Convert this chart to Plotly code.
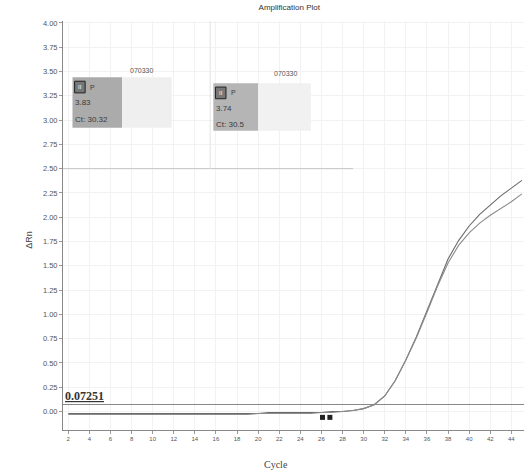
import plotly.graph_objects as go

cycles = list(range(2, 46))
# sample 1 (upper curve)
rn_a = [-0.02, -0.02, -0.02, -0.02, -0.02, -0.02, -0.02, -0.02, -0.02, -0.02,
        -0.02, -0.02, -0.02, -0.02, -0.02, -0.02, -0.02, -0.02, -0.02, -0.01,
        -0.01, -0.01, -0.01, -0.01, -0.01, 0.00, 0.00, 0.01, 0.03, 0.07,
        0.16, 0.32, 0.53, 0.77, 1.04, 1.32, 1.57, 1.76, 1.91, 2.03, 2.13,
        2.22, 2.30, 2.38]
# sample 2 (lower curve)
rn_b = [-0.03, -0.03, -0.03, -0.03, -0.03, -0.03, -0.03, -0.03, -0.03, -0.03,
        -0.03, -0.03, -0.03, -0.03, -0.03, -0.03, -0.03, -0.03, -0.02, -0.02,
        -0.02, -0.02, -0.02, -0.02, -0.01, -0.01, 0.00, 0.01, 0.03, 0.07,
        0.16, 0.32, 0.53, 0.76, 1.02, 1.29, 1.53, 1.71, 1.84, 1.94, 2.02,
        2.09, 2.16, 2.24]
threshold = 0.07251
baseline_marks_x = [26.1, 26.8]
baseline_marks_y = [-0.06, -0.06]

x_ticks = list(range(2, 46, 2))
y_ticks = [i * 0.25 for i in range(17)]

sample_names = ["070330", "070330"]
sample_rn = ["3.83", "3.74"]
sample_ct = ["Ct: 30.32", "Ct: 30.5"]

fig = go.Figure()
fig.add_trace(go.Scatter(x=cycles, y=rn_a, mode="lines",
                         line=dict(color="#6a6a6a", width=1.1), showlegend=False))
fig.add_trace(go.Scatter(x=cycles, y=rn_b, mode="lines",
                         line=dict(color="#8c8c8c", width=1.1), showlegend=False))
fig.add_trace(go.Scatter(x=[1.5, 45.2], y=[threshold, threshold], mode="lines",
                         line=dict(color="#888888", width=1.0), showlegend=False))
fig.add_trace(go.Scatter(x=baseline_marks_x, y=baseline_marks_y, mode="markers",
                         marker=dict(symbol="square", size=5, color="#222222"),
                         showlegend=False))

shapes = [
    dict(type="line", xref="x", yref="y", x0=1.5, x1=29.0, y0=2.5, y1=2.5,
         line=dict(color="#c4c4c4", width=1)),
    dict(type="line", xref="x", yref="y", x0=15.45, x1=15.45, y0=2.5, y1=4.02,
         line=dict(color="#e2e2e2", width=1)),
    dict(type="rect", xref="x", yref="y", x0=2.4, x1=7.1, y0=2.92, y1=3.44,
         fillcolor="#ababab", line=dict(width=0)),
    dict(type="rect", xref="x", yref="y", x0=7.1, x1=11.8, y0=2.92, y1=3.44,
         fillcolor="#efefef", line=dict(width=0)),
    dict(type="rect", xref="x", yref="y", x0=15.75, x1=20.0, y0=2.89, y1=3.38,
         fillcolor="#b5b5b5", line=dict(width=0)),
    dict(type="rect", xref="x", yref="y", x0=20.0, x1=25.0, y0=2.89, y1=3.38,
         fillcolor="#f1f1f1", line=dict(width=0)),
    dict(type="rect", xref="x", yref="y", x0=2.6, x1=3.6, y0=3.28, y1=3.40,
         fillcolor="#777777", line=dict(color="#222222", width=1)),
    dict(type="rect", xref="x", yref="y", x0=15.95, x1=16.95, y0=3.22, y1=3.34,
         fillcolor="#777777", line=dict(color="#222222", width=1)),
]

ann = []
txt_font = dict(family="Arial, Liberation Sans, sans-serif", size=8, color="#3a3a3a")
for bx, lx, ly, ytop, name, rn, ct in [
    (2.55, 8.9, 3.51, 3.34, sample_names[0], sample_rn[0], sample_ct[0]),
    (15.9, 22.6, 3.48, 3.28, sample_names[1], sample_rn[1], sample_ct[1]),
]:
    ann.append(dict(x=lx, y=ly, xref="x", yref="y", text=name, showarrow=False,
                    font=dict(family="Arial, Liberation Sans, sans-serif", size=7, color="#555555")))
    ann.append(dict(x=bx + 0.55, y=ytop, xref="x", yref="y", text="II", showarrow=False,
                    font=dict(family="Arial", size=6, color="#ffffff")))
    ann.append(dict(x=bx + 1.3, y=ytop, xref="x", yref="y", text="P", showarrow=False,
                    xanchor="left", font=dict(family="Arial", size=7, color="#3a3a3a")))
    ann.append(dict(x=bx - 0.1, y=ytop - 0.16, xref="x", yref="y", text=rn, showarrow=False,
                    xanchor="left", font=txt_font))
    ann.append(dict(x=bx - 0.1, y=ytop - 0.33, xref="x", yref="y", text=ct, showarrow=False,
                    xanchor="left", font=txt_font))

ann.append(dict(x=0.0, y=0.062, xref="paper", yref="paper", text="<b><u>0.07251</u></b>",
                showarrow=False, xanchor="left", yanchor="bottom",
                font=dict(family="Liberation Serif, serif", size=12, color="#333333")))
# axis titles
ann.append(dict(x=-0.089, y=0.465, xref="paper", yref="paper", text="ΔRn", textangle=-90,
                showarrow=False, font=dict(family="Arial, Liberation Sans, sans-serif",
                                           size=9, color="#444444")))
ann.append(dict(x=0.462, y=-0.085, xref="paper", yref="paper", text="Cycle",
                showarrow=False, yanchor="middle",
                font=dict(family="Liberation Serif, serif", size=10, color="#444444")))

fig.update_layout(
    width=526, height=475,
    margin=dict(l=63, r=2, t=21, b=45, autoexpand=False),
    paper_bgcolor="white", plot_bgcolor="white",
    title=dict(text="Amplification Plot", x=0.55, y=0.99, xanchor="center", yanchor="top",
               font=dict(family="Arial, Liberation Sans, sans-serif", size=8, color="#333333")),
    shapes=shapes, annotations=ann,
    xaxis=dict(range=[1.5, 45.2], tickvals=x_ticks, showgrid=True, gridcolor="#f2f2f2",
               showline=True, linecolor="#888888", ticks="outside", ticklen=3,
               tickcolor="#999999", zeroline=False, automargin=False,
               tickfont=dict(family="Arial, Liberation Sans, sans-serif", size=6, color="#555555")),
    yaxis=dict(range=[-0.19, 4.02], tickvals=y_ticks, tickformat=".2f", showgrid=True,
               gridcolor="#f2f2f2", showline=True, linecolor="#888888", ticks="outside",
               ticklen=3, tickcolor="#999999", zeroline=False, automargin=False,
               tickfont=dict(family="Arial, Liberation Sans, sans-serif", size=7.5, color="#555555")),
)

fig.write_html("out.html", config={"displayModeBar": False},
               post_script="document.body.style.margin='0px';document.body.style.overflow='hidden';")
